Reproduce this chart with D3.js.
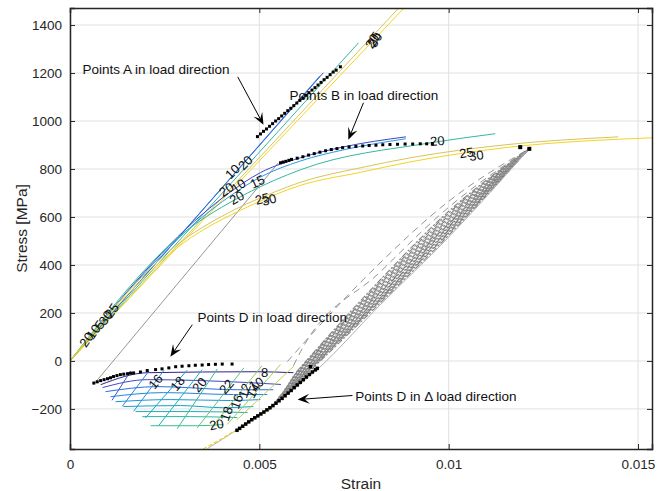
<!DOCTYPE html>
<html>
<head>
<meta charset="utf-8">
<script src="https://cdn.jsdelivr.net/npm/d3@7"></script>
<style>
  body { margin: 0; background: #fff; }
  text { font-family: 'Liberation Sans', Arial, sans-serif; }
</style>
</head>
<body>
<div id="chart"></div>
<script>
// axis ticks
var xTicks = [0, 0.005, 0.01, 0.015];
var xTickLabels = ['0', '0.005', '0.01', '0.015'];
var yTicks = [-200, 0, 200, 400, 600, 800, 1000, 1200, 1400];

// straight load lines (points A family), [strain, stress]
var loadLines = [
  [[0, 0], [0.00669, 1201]],
  [[0, 0], [0.0066, 1188]],
  [[0, 0], [0.00762, 1326]],
  [[0, 0], [0.00868, 1471]],
  [[0, 0], [0.00882, 1471]]
];
var loadColors = ['#3d45c8', '#2a82e0', '#33b99e', '#d6c55a', '#f6d324'];

// bending curves (points B family)
var bendCurves = [
  [[0, 0], [0.0035, 612], [0.0042, 700], [0.00503, 785], [0.00609, 847], [0.00722, 892], [0.00887, 934]],
  [[0, 0], [0.0035, 600], [0.0042, 684], [0.0050, 764], [0.0061, 834], [0.0072, 879], [0.00887, 926]],
  [[0, 0], [0.0032, 558], [0.0040, 640], [0.00469, 700], [0.00609, 797], [0.00952, 909], [0.01123, 947]],
  [[0, 0], [0.0030, 505], [0.0040, 602], [0.0054, 704], [0.00609, 745], [0.00767, 805], [0.009, 847], [0.0115, 901], [0.01448, 934]],
  [[0, 0], [0.0030, 492], [0.00469, 642], [0.00609, 732], [0.00767, 786], [0.009, 830], [0.0115, 889], [0.01537, 930]]
];
var bendColors = ['#3d45c8', '#2a9be0', '#33b99e', '#d6c55a', '#f6d324'];

// unloading mesh, rows and cross lines
var meshRows = [
  [[0.00081, -99], [0.00205, -49], [0.00495, -45], [0.0059, -49]],
  [[0.00086, -111], [0.00205, -78], [0.00469, -90], [0.00557, -98]],
  [[0.00094, -128], [0.00231, -107], [0.00442, -120], [0.00537, -120]],
  [[0.00107, -149], [0.00247, -132], [0.00432, -140], [0.00521, -140]],
  [[0.0012, -170], [0.00265, -161], [0.00424, -165], [0.00503, -161]],
  [[0.00141, -190], [0.00292, -186], [0.00405, -195], [0.00484, -190]],
  [[0.00173, -211], [0.00318, -211], [0.00469, -215]],
  [[0.00191, -232], [0.00318, -232], [0.00442, -236]],
  [[0.00213, -270], [0.00337, -270], [0.00405, -265]]
];
var meshRowColors = ['#2c2290', '#3d48c8', '#2f6ce0', '#2484e0', '#1a99d6', '#12a6c8', '#1cb1b6', '#27b9a3', '#38bf8f'];

var meshCols = [
  [[0.00111, -164], [0.0016, -43]],
  [[0.00138, -189], [0.00208, -43]],
  [[0.00168, -210], [0.00248, -39]],
  [[0.00199, -238], [0.00309, -39]],
  [[0.00234, -270], [0.00349, -36]],
  [[0.00283, -283], [0.00389, -33]],
  [[0.00336, -279], [0.00459, -29]],
  [[0.00375, -275], [0.00507, -20]],
  [[0.00415, -265], [0.00556, -15]],
  [[0.00441, -245], [0.00591, -22]]
];
var meshColColors = ['#3a58d8', '#2c7ee0', '#2294da', '#17a6c9', '#1db3b2', '#3abd96', '#5ec47c', '#86c965', '#a8cd55', '#c4d04c'];

// gray unloading bundle, lower end first, up to the top point
var bundleDashed = [
  [[0.00574, -3], [0.00609, 60], [0.00814, 401], [0.00999, 664], [0.01213, 885]],
  [[0.0059, -20], [0.00609, 39], [0.0082, 372], [0.00999, 639], [0.01213, 885]]
];
var bundleSolid = [
  [[0.00598, -45], [0.0082, 339], [0.00999, 622], [0.01213, 885]],
  [[0.00593, -57], [0.0082, 330], [0.00999, 614], [0.01213, 885]],
  [[0.00587, -70], [0.0082, 322], [0.00999, 605], [0.01213, 885]],
  [[0.00582, -82], [0.0082, 314], [0.00999, 597], [0.01213, 885]],
  [[0.00577, -95], [0.0082, 305], [0.00999, 589], [0.01213, 885]],
  [[0.00572, -107], [0.0082, 297], [0.00999, 580], [0.01213, 885]],
  [[0.00566, -120], [0.0082, 289], [0.00999, 572], [0.01213, 885]],
  [[0.00561, -132], [0.0082, 285], [0.00999, 568], [0.01213, 885]],
  [[0.00556, -145], [0.0082, 276], [0.00999, 560], [0.01213, 885]],
  [[0.0055, -153], [0.0082, 272], [0.00999, 555], [0.01213, 885]],
  [[0.00545, -165], [0.0082, 264], [0.00999, 547], [0.01213, 885]],
  [[0.0054, -174], [0.0082, 260], [0.00999, 543], [0.01213, 885]],
  [[0.00535, -186], [0.0082, 255], [0.00999, 535], [0.01213, 885]],
  [[0.00529, -195], [0.0082, 251], [0.00999, 530], [0.01213, 885]],
  [[0.00524, -207], [0.0082, 243], [0.00999, 522], [0.01213, 885]]
];
var bundleEdge = [[0.00363, -365], [0.00442, -286], [0.00653, -36], [0.0082, 235], [0.00999, 514], [0.01213, 885]];
var yellowTail = [[0.00352, -367], [0.00441, -285], [0.0054, -178], [0.0065, -35]];
var grayLink = [[0.00062, -99], [0.0055, 825]];

// marked points
var pointsA = [[0.00495, 935], [0.00503, 946], [0.00511, 957], [0.00519, 967], [0.00527, 978], [0.00535, 989],
  [0.00543, 1000], [0.00551, 1010], [0.00559, 1021], [0.00567, 1032], [0.00575, 1043], [0.00583, 1053],
  [0.00591, 1064], [0.00599, 1075], [0.00607, 1086], [0.00615, 1096], [0.00623, 1107], [0.00631, 1118],
  [0.00639, 1129], [0.00647, 1139], [0.00655, 1150], [0.00663, 1161], [0.00671, 1172], [0.00679, 1182],
  [0.00687, 1193], [0.00695, 1204], [0.00703, 1212], [0.00714, 1226]];
var pointsB = [[0.00556, 826], [0.00563, 829], [0.0057, 832], [0.00578, 836], [0.00585, 840], [0.006, 845],
  [0.00615, 851], [0.0063, 858], [0.00645, 864], [0.0066, 870], [0.00675, 876], [0.0069, 881], [0.00705, 885],
  [0.0072, 889], [0.00737, 892], [0.00755, 894], [0.00773, 896], [0.0079, 898], [0.00808, 899], [0.00826, 901],
  [0.00845, 902], [0.00865, 903], [0.00885, 904], [0.00905, 904], [0.00925, 905], [0.00942, 905], [0.00957, 906]];
var pointsD = [[0.00063, -92], [0.00072, -87], [0.00081, -82], [0.0009, -78], [0.00099, -74], [0.00107, -70],
  [0.00115, -65], [0.00124, -61], [0.00133, -57], [0.00142, -55], [0.00152, -53], [0.0016, -51], [0.00168, -50],
  [0.00186, -46], [0.00204, -40], [0.00226, -36], [0.00243, -33], [0.00261, -29], [0.00279, -24], [0.00296, -22],
  [0.00314, -20], [0.00331, -18], [0.00349, -17], [0.00366, -15], [0.00384, -14], [0.00402, -13], [0.00428, -13]];
var pointsDdelta = [[0.00441, -289], [0.00448, -281], [0.00456, -272], [0.00464, -263], [0.00472, -254],
  [0.0048, -245], [0.00488, -237], [0.00496, -229], [0.00504, -221], [0.00512, -213], [0.0052, -204],
  [0.00528, -195], [0.00536, -186], [0.00544, -176], [0.00552, -166], [0.0056, -156], [0.00568, -145],
  [0.00576, -134], [0.00584, -123], [0.00592, -111], [0.006, -100], [0.00608, -89], [0.00616, -78],
  [0.00624, -67], [0.00632, -56], [0.0064, -46], [0.00648, -37], [0.00653, -31], [0.00635, -24]];
var pointsTop = [[0.01189, 891], [0.01213, 884]];

// contour labels [strain, stress, text]
var curveLabels = [
  [0.000436, 89, '20'], [0.00062, 122, '10'], [0.00078, 151, '5'], [0.00094, 180, '30'], [0.0011, 210, '25'],
  [0.00429, 789, '10'], [0.00463, 826, '20'], [0.00413, 714, '20'], [0.00445, 730, '10'], [0.00495, 747, '15'],
  [0.0044, 680, '20'], [0.00508, 676, '25'], [0.00526, 672, '30'],
  [0.00798, 1334, '20'], [0.00803, 1342, '25'], [0.00806, 1338, '30'],
  [0.0097, 917, '20'], [0.01047, 868, '25'], [0.01073, 856, '30'],
  [0.00226, -86, '16'], [0.00284, -94, '18'], [0.00342, -99, '20'], [0.00413, -107, '22'],
  [0.00514, -49, '8'], [0.00492, -95, '10'], [0.00461, -124, '12'], [0.00484, -124, '14'],
  [0.0044, -170, '16'], [0.00413, -220, '18'], [0.00387, -265, '20']
];
var curveLabelAngles = [-55, -55, -55, -55, -55, -45, -45, -35, -35, -25, -30, -15, -15,
  -60, -60, -60, -5, -8, -8, -50, -50, -50, -50, 0, -30, -70, -60, -70, -70, -10];

// annotations [strain, stress, text] and arrows [from, to]
var notes = [
  [0.00033, 1197, 'Points A in load direction'],
  [0.0058, 1088, 'Points B in load direction'],
  [0.00337, 164, 'Points D in load direction'],
  [0.00753, -165, 'Points D in \u0394 load direction']
];
var arrows = [
  [[0.00443, 1184], [0.00511, 984]],
  [[0.00775, 1076], [0.00735, 922]],
  [[0.00323, 151], [0.00265, 18]],
  [[0.00746, -144], [0.00601, -161]]
];

var W = 670, H = 491;
var padL = 70, padR = 652, padT = 8, padB = 449;
var axisColor = '#262626';

var svg = d3.select('#chart').append('svg')
  .attr('width', W)
  .attr('height', H)
  .attr('style', 'background-color: white');

var x = d3.scaleLinear().domain([0, 0.01537]).range([padL, padR]);
var y = d3.scaleLinear().domain([-367, 1471]).range([padB, padT]);

svg.append('clipPath').attr('id', 'plotclip')
  .append('rect')
  .attr('x', padL).attr('y', padT)
  .attr('width', padR - padL).attr('height', padB - padT);

// grid
var grid = svg.append('g').attr('class', 'grid');
grid.selectAll('.gx')
  .data(xTicks)
  .enter().append('line')
  .attr('x1', function(d) { return x(d); })
  .attr('x2', function(d) { return x(d); })
  .attr('y1', padT).attr('y2', padB)
  .attr('stroke', '#e0e0e0');
grid.selectAll('.gy')
  .data(yTicks)
  .enter().append('line')
  .attr('y1', function(d) { return y(d); })
  .attr('y2', function(d) { return y(d); })
  .attr('x1', padL).attr('x2', padR)
  .attr('stroke', '#e0e0e0');

var plot = svg.append('g').attr('clip-path', 'url(#plotclip)');

var line = d3.line()
  .x(function(d) { return x(d[0]); })
  .y(function(d) { return y(d[1]); });
var smooth = d3.line()
  .x(function(d) { return x(d[0]); })
  .y(function(d) { return y(d[1]); })
  .curve(d3.curveMonotoneX);

function drawLines(data, gen, colors, width, dash) {
  plot.append('g').selectAll('path')
    .data(data)
    .enter().append('path')
    .attr('d', gen)
    .attr('fill', 'none')
    .attr('stroke', function(d, i) { return typeof colors === 'string' ? colors : colors[i]; })
    .attr('stroke-width', width)
    .attr('stroke-dasharray', dash || null);
}

// gray stuff first, colored lines on top
drawLines([grayLink], line, '#8a8a8a', 0.9);
drawLines(bundleDashed, smooth, '#959595', 1, '7,5');
drawLines(bundleSolid, smooth, '#7a7a7a', 1.1, '6,2,2,2');
drawLines(bundleSolid, smooth, '#a3a3a3', 0.8, '2,5');
drawLines([bundleEdge], smooth, '#b0b0b0', 1);
drawLines([yellowTail], smooth, '#f2d22e', 1.2, '4,2');

drawLines(loadLines, line, loadColors, 1);
drawLines(bendCurves, smooth, bendColors, 1);
drawLines(meshRows, smooth, meshRowColors, 1);
drawLines(meshCols, line, meshColColors, 1);

// markers
function drawMarks(data, size) {
  plot.append('g').selectAll('rect')
    .data(data)
    .enter().append('rect')
    .attr('x', function(d) { return x(d[0]) - size / 2; })
    .attr('y', function(d) { return y(d[1]) - size / 2; })
    .attr('width', size)
    .attr('height', size)
    .attr('fill', '#000');
}
drawMarks(pointsA, 3);
drawMarks(pointsB, 3);
drawMarks(pointsD, 3);
drawMarks(pointsDdelta, 3.5);
drawMarks(pointsTop, 4);

// contour labels
plot.append('g').selectAll('text')
  .data(curveLabels)
  .enter().append('text')
  .attr('transform', function(d, i) {
    return 'translate(' + x(d[0]) + ',' + y(d[1]) + ') rotate(' + curveLabelAngles[i] + ')';
  })
  .attr('text-anchor', 'middle')
  .attr('dy', '0.35em')
  .attr('font-size', 13)
  .attr('fill', '#111')
  .text(function(d) { return d[2]; });

// annotations
var ann = svg.append('g');
ann.selectAll('text')
  .data(notes)
  .enter().append('text')
  .attr('x', function(d) { return x(d[0]); })
  .attr('y', function(d) { return y(d[1]); })
  .attr('font-size', 13.5)
  .attr('fill', '#111')
  .text(function(d) { return d[2]; });

arrows.forEach(function(a) {
  var x0 = x(a[0][0]), y0 = y(a[0][1]), x1 = x(a[1][0]), y1 = y(a[1][1]);
  var ang = Math.atan2(y1 - y0, x1 - x0);
  var len = 12, half = 5, notch = 7;
  var bx = x1 - len * Math.cos(ang), by = y1 - len * Math.sin(ang);
  var nx = x1 - notch * Math.cos(ang), ny = y1 - notch * Math.sin(ang);
  var px = -Math.sin(ang) * half, py = Math.cos(ang) * half;
  ann.append('line')
    .attr('x1', x0).attr('y1', y0)
    .attr('x2', nx).attr('y2', ny)
    .attr('stroke', '#000').attr('stroke-width', 1);
  ann.append('path')
    .attr('d', 'M' + x1 + ',' + y1 + 'L' + (bx + px) + ',' + (by + py) + 'L' + nx + ',' + ny +
      'L' + (bx - px) + ',' + (by - py) + 'Z')
    .attr('fill', '#000');
});

// axes box and ticks
var xAxis = d3.axisBottom(x).tickValues(xTicks)
  .tickFormat(function(d, i) { return xTickLabels[i]; })
  .tickSize(-5).tickPadding(10);
var yAxis = d3.axisLeft(y).tickValues(yTicks).tickFormat(d3.format('d')).tickSize(-5).tickPadding(8);

svg.append('g').attr('transform', 'translate(0,' + padB + ')').call(xAxis);
svg.append('g').attr('transform', 'translate(' + padL + ',0)').call(yAxis);
svg.append('g').attr('transform', 'translate(0,' + padT + ')')
  .call(d3.axisTop(x).tickValues(xTicks).tickSize(-5).tickFormat(''));
svg.append('g').attr('transform', 'translate(' + padR + ',0)')
  .call(d3.axisRight(y).tickValues(yTicks).tickSize(-5).tickFormat(''));

svg.selectAll('.domain').attr('stroke', axisColor).attr('stroke-width', 1.5);
svg.selectAll('.tick line').attr('stroke', axisColor);
svg.selectAll('.tick text')
  .attr('font-size', 13.5)
  .attr('font-family', "'Liberation Sans', Arial, sans-serif")
  .attr('fill', axisColor);

svg.append('text')
  .attr('x', (padL + padR) / 2)
  .attr('y', 489)
  .attr('text-anchor', 'middle')
  .attr('font-size', 15.5)
  .attr('fill', axisColor)
  .text('Strain');

svg.append('text')
  .attr('transform', 'translate(27,' + ((padT + padB) / 2) + ') rotate(-90)')
  .attr('text-anchor', 'middle')
  .attr('font-size', 15.5)
  .attr('fill', axisColor)
  .text('Stress [MPa]');
</script>
</body>
</html>
